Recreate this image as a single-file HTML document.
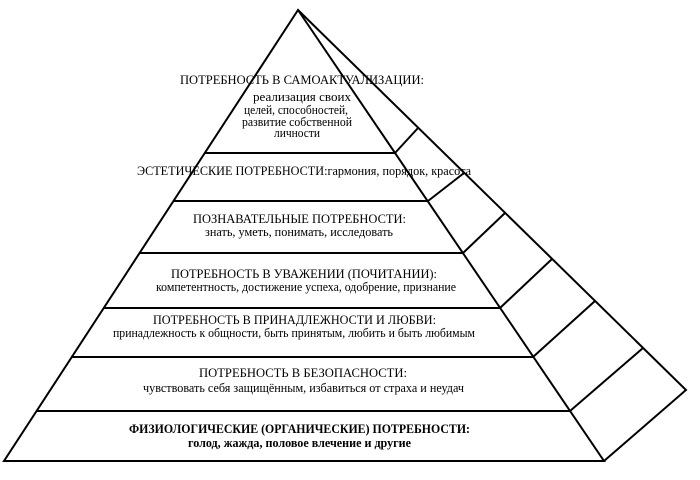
<!DOCTYPE html>
<html><head><meta charset="utf-8"><style>
html,body{margin:0;padding:0;background:#fff;width:700px;height:480px;overflow:hidden}
svg{display:block}
text{font-family:"Liberation Serif",serif;font-size:13px;fill:#000}
.b{font-weight:bold}
</style></head><body>
<svg width="700" height="480" viewBox="0 0 700 480" xmlns="http://www.w3.org/2000/svg">
<g stroke="#000" stroke-width="2" fill="none" stroke-linejoin="miter">
<polygon points="298,10 4,461 604,461"/>
<polyline points="298,10 686,390 604,461"/>
<line x1="205" y1="153" x2="395" y2="153"/>
<line x1="174" y1="201" x2="428" y2="201"/>
<line x1="140" y1="253" x2="463" y2="253"/>
<line x1="104" y1="308" x2="500" y2="308"/>
<line x1="72" y1="357" x2="533" y2="357"/>
<line x1="37" y1="411" x2="570" y2="411"/>
<line x1="395" y1="153" x2="418" y2="128"/>
<line x1="428" y1="201" x2="464" y2="173"/>
<line x1="463" y1="253" x2="505" y2="213"/>
<line x1="500" y1="308" x2="552" y2="259"/>
<line x1="533" y1="357" x2="595" y2="301"/>
<line x1="570" y1="411" x2="643" y2="348"/>
</g>
<text x="180" y="84" textLength="244" lengthAdjust="spacingAndGlyphs">ПОТРЕБНОСТЬ В САМОАКТУАЛИЗАЦИИ:</text>
<text x="253" y="101" textLength="98" lengthAdjust="spacingAndGlyphs">реализация своих</text>
<text x="244" y="114" textLength="104" lengthAdjust="spacingAndGlyphs">целей, способностей,</text>
<text x="242" y="126" textLength="110" lengthAdjust="spacingAndGlyphs">развитие собственной</text>
<text x="274" y="137" textLength="46" lengthAdjust="spacingAndGlyphs">личности</text>
<text x="137" y="175" textLength="334" lengthAdjust="spacingAndGlyphs">ЭСТЕТИЧЕСКИЕ ПОТРЕБНОСТИ:гармония, порядок, красота</text>
<text x="193" y="223" textLength="213" lengthAdjust="spacingAndGlyphs">ПОЗНАВАТЕЛЬНЫЕ ПОТРЕБНОСТИ:</text>
<text x="205" y="236" textLength="188" lengthAdjust="spacingAndGlyphs">знать, уметь, понимать, исследовать</text>
<text x="171" y="278" textLength="266" lengthAdjust="spacingAndGlyphs">ПОТРЕБНОСТЬ В УВАЖЕНИИ (ПОЧИТАНИИ):</text>
<text x="156" y="291" textLength="300" lengthAdjust="spacingAndGlyphs">компетентность, достижение успеха, одобрение, признание</text>
<text x="153" y="324" textLength="283" lengthAdjust="spacingAndGlyphs">ПОТРЕБНОСТЬ В ПРИНАДЛЕЖНОСТИ И ЛЮБВИ:</text>
<text x="113" y="337" textLength="362" lengthAdjust="spacingAndGlyphs">принадлежность к общности, быть принятым, любить и быть любимым</text>
<text x="199" y="377" textLength="208" lengthAdjust="spacingAndGlyphs">ПОТРЕБНОСТЬ В БЕЗОПАСНОСТИ:</text>
<text x="143" y="392" textLength="321" lengthAdjust="spacingAndGlyphs">чувствовать себя защищённым, избавиться от страха и неудач</text>
<text class="b" x="129" y="433" textLength="341" lengthAdjust="spacingAndGlyphs">ФИЗИОЛОГИЧЕСКИЕ (ОРГАНИЧЕСКИЕ) ПОТРЕБНОСТИ:</text>
<text class="b" x="188" y="447" textLength="223" lengthAdjust="spacingAndGlyphs">голод, жажда, половое влечение и другие</text>
</svg>
</body></html>
